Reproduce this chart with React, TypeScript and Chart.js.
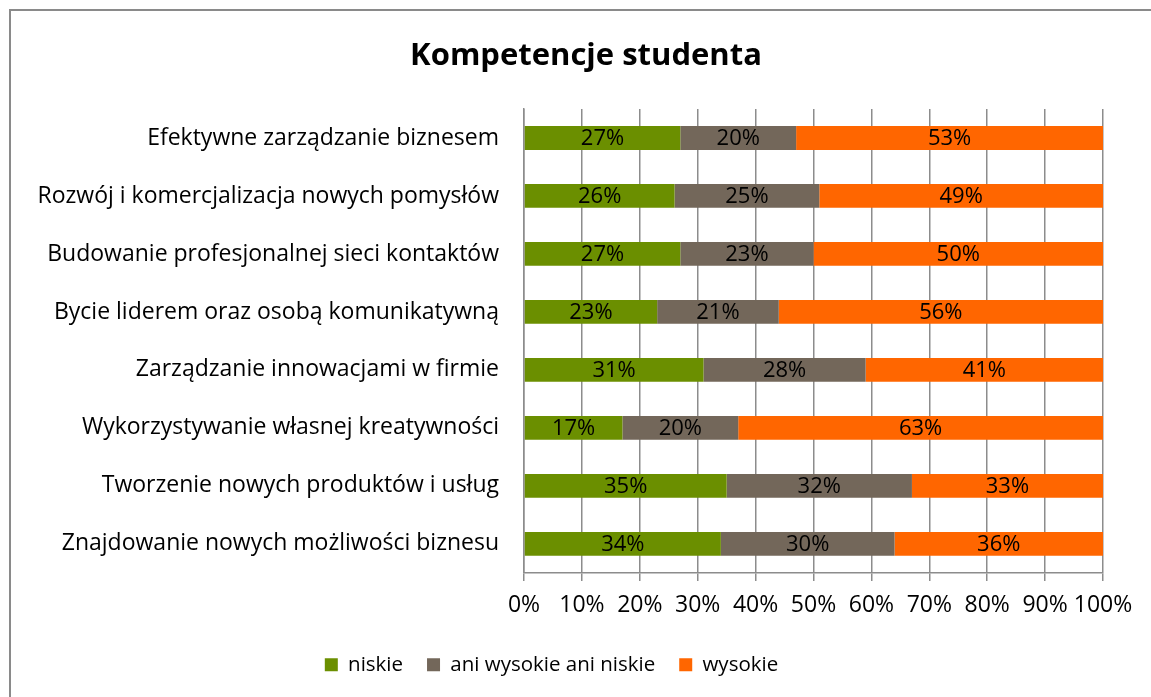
import React, { useEffect, useRef } from "react";
import { Chart, registerables } from "chart.js";

Chart.register(...registerables);

const categories = [
  "Efektywne zarządzanie biznesem",
  "Rozwój i komercjalizacja nowych pomysłów",
  "Budowanie profesjonalnej sieci kontaktów",
  "Bycie liderem oraz osobą komunikatywną",
  "Zarządzanie innowacjami w firmie",
  "Wykorzystywanie własnej kreatywności",
  "Tworzenie nowych produktów i usług",
  "Znajdowanie nowych możliwości biznesu",
];
const niskie = [27, 26, 27, 23, 31, 17, 35, 34];
const ani = [20, 25, 23, 21, 28, 20, 32, 30];
const wysokie = [53, 49, 50, 56, 41, 63, 33, 36];
const seriesNames = ["niskie", "ani wysokie ani niskie", "wysokie"];
const xTicks = [0, 10, 20, 30, 40, 50, 60, 70, 80, 90, 100];
const title = "Kompetencje studenta";

const FONT = "'Open Sans'";
const FS = 22;

const dataLabels = {
  id: "dataLabels",
  afterDatasetsDraw(chart: any) {
    const ctx = chart.ctx;
    ctx.save();
    ctx.font = `${FS}px ${FONT}`;
    ctx.fillStyle = "#000";
    ctx.textAlign = "center";
    ctx.textBaseline = "middle";
    chart.data.datasets.forEach((ds: any, i: number) => {
      const meta = chart.getDatasetMeta(i);
      meta.data.forEach((el: any, j: number) => {
        const p = el.getCenterPoint();
        ctx.fillText(ds.data[j] + "%", p.x, p.y + 1);
      });
    });
    ctx.restore();
  },
};

const chartTitle = {
  id: "chartTitle",
  afterDraw(chart: any) {
    const ctx = chart.ctx;
    ctx.save();
    ctx.font = `bold 31px ${FONT}`;
    ctx.fillStyle = "#000";
    ctx.textAlign = "center";
    ctx.textBaseline = "middle";
    ctx.fillText(title, 586, 56);
    ctx.restore();
  },
};

export default function App() {
  const ref = useRef<HTMLCanvasElement>(null);
  useEffect(() => {
    if (!ref.current) return;
    Chart.defaults.font.family = FONT;
    const chart = new Chart(ref.current, {
      type: "bar",
      data: {
        labels: categories,
        datasets: [
          { label: seriesNames[0], data: niskie, backgroundColor: "#6b8f00" },
          { label: seriesNames[1], data: ani, backgroundColor: "#73675a" },
          { label: seriesNames[2], data: wysokie, backgroundColor: "#ff6600" },
        ],
      },
      options: {
        indexAxis: "y",
        responsive: false,
        animation: false,
        layout: { padding: { left: 0, right: 48, top: 109, bottom: 12 } },
        datasets: { bar: { categoryPercentage: 1, barPercentage: 0.41 } },
        scales: {
          x: {
            stacked: true,
            min: 0,
            max: 100,
            afterBuildTicks: (s: any) => {
              s.ticks = xTicks.map((v) => ({ value: v }));
            },
            ticks: {
              callback: (v: any) => v + "%",
              color: "#000",
              font: { size: FS + 1 },
              padding: 11,
              maxRotation: 0,
              autoSkip: false,
            },
            grid: { color: "#8c8c8c", lineWidth: 1.5, tickLength: 8 },
            border: { color: "#8c8c8c", width: 1.5 },
          },
          y: {
            stacked: true,
            afterFit: (s: any) => {
              s.width = 524;
            },
            ticks: { color: "#000", font: { size: FS + 1 }, padding: 25 },
            grid: { display: false, drawTicks: false },
            border: { color: "#8c8c8c", width: 1.5 },
          },
        },
        plugins: {
          title: { display: false },
          legend: {
            position: "bottom",
            labels: { color: "#000", font: { size: 20.5 }, boxWidth: 13, boxHeight: 13, padding: 24 },
          },
          tooltip: { enabled: false },
        },
      },
      plugins: [dataLabels, chartTitle],
    } as any);
    return () => chart.destroy();
  }, []);
  return (
    <div style={{ position: "fixed", left: 0, top: 0, width: 1151, height: 697, overflow: "hidden", background: "#fff" }}>
      <div style={{ position: "absolute", left: 9, top: 9, width: 1300, height: 900, border: "2px solid #8a8a8a", boxSizing: "border-box" }} />
      <canvas ref={ref} width={1151} height={697} style={{ position: "absolute", left: 0, top: 0 }} />
    </div>
  );
}
